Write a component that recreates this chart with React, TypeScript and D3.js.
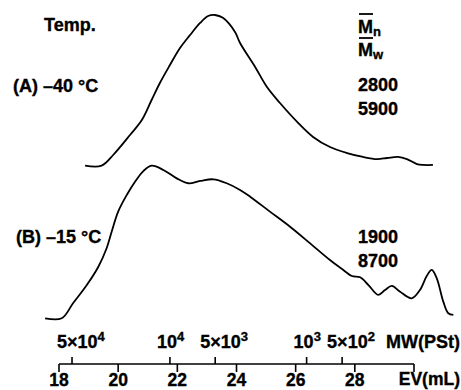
import React from "react";
import * as d3 from "d3";

// Elution volume (mL) vs relative detector response
const evA = [18.88, 19.44, 19.83, 20.4, 20.8, 21.13, 21.41, 21.75, 22.09, 22.43, 22.77, 23.04, 23.27, 23.54, 23.95, 24.12, 24.63, 25.03, 25.47, 26.05, 26.59, 27.16, 27.74, 28.28, 28.75, 29.09, 29.46, 29.76, 30.1, 30.31, 30.64];
const intA = [0, 0, 7.1, 20.4, 30.3, 43.6, 54.9, 66.8, 78.1, 86.7, 94.7, 99.3, 100, 98.1, 88.7, 81.4, 65.5, 52.2, 41.6, 29.1, 19.1, 12.4, 8.4, 5.8, 4.4, 5.1, 5.8, 4.4, 1.1, 0.5, 0.5];

const evB = [17.53, 18.09, 18.48, 18.94, 19.33, 19.61, 19.78, 20.0, 20.29, 20.57, 20.85, 21.13, 21.53, 21.98, 22.37, 22.77, 23.22, 23.67, 24.12, 24.46, 25.13, 25.81, 26.49, 27.16, 27.61, 27.9, 28.18, 28.46, 28.79, 29.02, 29.25, 29.53, 29.92, 30.2, 30.43, 30.6, 30.77, 30.99, 31.16, 31.33];
const intB = [0, 0, 10.0, 21.8, 33.8, 45.9, 56.7, 69.9, 80.8, 89.5, 96.5, 100, 97.2, 91.7, 88.5, 90.0, 91.1, 88.5, 84.1, 79.7, 69.9, 60.0, 49.1, 38.2, 31.7, 27.7, 26.9, 21.8, 15.3, 18.5, 21.2, 17.4, 13.1, 18.5, 27.7, 31.7, 26.2, 10.9, 3.3, 2.2];

const evTicks = [18, 20, 22, 24, 26, 28, 30];
const evTickLabels = ["18", "20", "22", "24", "26", "28", ""];

const mwTickEV = [18.44, 21.75, 23.28, 26.37, 27.57];
const mwMantissa = ["5×10", "10", "5×10", "10", "5×10"];
const mwExponent = ["4", "4", "3", "3", "2"];

const samples = ["(A) –40 °C", "(B) –15 °C"];
const mnValues = ["2800", "1900"];
const mwValues = ["5900", "8700"];

const FONT = "'Liberation Sans', Arial, Helvetica, sans-serif";

export default function App() {
  const x = d3.scaleLinear().domain([18, 30]).range([59, 414]);
  const yA = d3.scaleLinear().domain([0, 100]).range([165.7, 15]);
  const yB = d3.scaleLinear().domain([0, 100]).range([318.3, 165.7]);

  const lineA = d3
    .line<number>()
    .x((_, i) => x(evA[i]))
    .y((d) => yA(d))
    .curve(d3.curveCatmullRom.alpha(0.5));
  const lineB = d3
    .line<number>()
    .x((_, i) => x(evB[i]))
    .y((d) => yB(d))
    .curve(d3.curveCatmullRom.alpha(0.5));

  const axisY = 364;
  const txt = { fontSize: 18, stroke: "#000", strokeWidth: 0.35 } as const;

  return (
    <svg
      width={461}
      height={390}
      style={{ position: "absolute", left: 0, top: 0, background: "#fff" }}
      fontFamily={FONT}
      fontWeight="bold"
    >
      <rect width={461} height={390} fill="#fff" />
      <path d={lineA(intA) || ""} fill="none" stroke="#000" strokeWidth={1.8} strokeLinejoin="round" />
      <path d={lineB(intB) || ""} fill="none" stroke="#000" strokeWidth={1.8} strokeLinejoin="round" />

      {/* header labels */}
      <text x={44} y={31} {...txt}>Temp.</text>
      <text x={13} y={92} {...txt}>{samples[0]}</text>
      <text x={16} y={243} {...txt}>{samples[1]}</text>

      <text x={358} y={33} {...txt}>M<tspan fontSize={13} dy={3}>n</tspan></text>
      <line x1={359} x2={373} y1={14} y2={14} stroke="#000" strokeWidth={1.8} />
      <text x={358} y={56} {...txt}>M<tspan fontSize={13} dy={3}>w</tspan></text>
      <line x1={359} x2={373} y1={38} y2={38} stroke="#000" strokeWidth={1.8} />

      <text x={358} y={91} {...txt}>{mnValues[0]}</text>
      <text x={358} y={115} {...txt}>{mwValues[0]}</text>
      <text x={358} y={243} {...txt}>{mnValues[1]}</text>
      <text x={358} y={267} {...txt}>{mwValues[1]}</text>

      {/* axis */}
      <line x1={x(18)} x2={x(30)} y1={axisY} y2={axisY} stroke="#000" strokeWidth={1.6} />
      {evTicks.map((t, i) => (
        <g key={"ev" + t}>
          <line x1={x(t)} x2={x(t)} y1={axisY} y2={axisY + 8} stroke="#000" strokeWidth={1.6} />
          <text x={x(t)} y={386} {...txt} fontSize={17.5} textAnchor="middle">{evTickLabels[i]}</text>
        </g>
      ))}
      <text x={460} y={385} {...txt} fontSize={17.5} textAnchor="end">EV(mL)</text>

      {mwTickEV.map((t, i) => (
        <g key={"mw" + i}>
          <line x1={x(t)} x2={x(t)} y1={axisY - 7} y2={axisY} stroke="#000" strokeWidth={1.6} />
          <text x={x(t) - (mwMantissa[i].length > 2 ? 15 : 13)} y={348} {...txt}>
            {mwMantissa[i]}
            <tspan fontSize={13} dy={-7}>{mwExponent[i]}</tspan>
          </text>
        </g>
      ))}
      <text x={460} y={348} {...txt} textAnchor="end">MW(PSt)</text>
    </svg>
  );
}
